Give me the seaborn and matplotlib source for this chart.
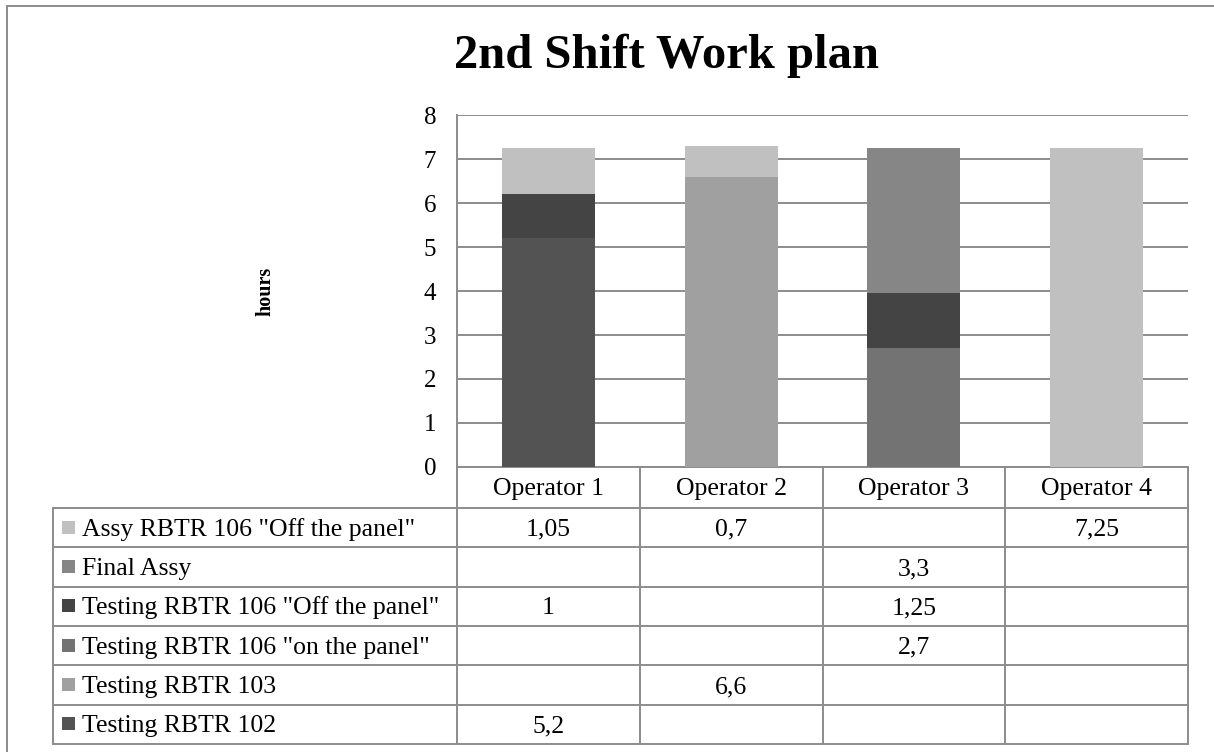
import matplotlib
matplotlib.use('Agg')
import matplotlib.pyplot as plt
import matplotlib.transforms as mtransforms
import numpy as np
import pandas as pd
import seaborn as sns
from matplotlib.lines import Line2D
from matplotlib.patches import Rectangle

operators = ['Operator 1', 'Operator 2', 'Operator 3', 'Operator 4']

# stacking order, bottom to top
tasks = [
    'Testing RBTR 102',
    'Testing RBTR 103',
    'Testing RBTR 106 "on the panel"',
    'Testing RBTR 106 "Off the panel"',
    'Final Assy',
    'Assy RBTR 106 "Off the panel"',
]
testing_102 = [5.2, None, None, None]
testing_103 = [None, 6.6, None, None]
testing_106_on = [None, None, 2.7, None]
testing_106_off = [1, None, 1.25, None]
final_assy = [None, None, 3.3, None]
assy_106_off = [1.05, 0.7, None, 7.25]

task_colors = ['#535353', '#a0a0a0', '#737373', '#444444', '#868686', '#c0c0c0']

W, H = 1214, 752
LINE = '#8c8c8c'

sns.set_theme(style='white')
plt.rcParams['font.family'] = ['Liberation Serif', 'DejaVu Serif']
plt.rcParams['text.color'] = 'black'
plt.rcParams['ytick.color'] = 'black'

df = pd.DataFrame(
    dict(zip(tasks, [testing_102, testing_103, testing_106_on,
                     testing_106_off, final_assy, assy_106_off])),
    index=operators,
)
stacked = df.fillna(0).cumsum(axis=1)

fig = plt.figure(figsize=(W / 100, H / 100), dpi=100)
ax = fig.add_axes([457 / W, 1 - 467 / H, (1188 - 457) / W, (467 - 115) / H])

# draw tallest cumulative first so each lower segment covers it
for task, color in reversed(list(zip(tasks, task_colors))):
    sns.barplot(x=operators, y=stacked[task].values, color=color, saturation=1,
                width=0.51, linewidth=0, ax=ax, zorder=3)

ax.set_ylim(0, 8)
ax.set_xlim(-0.5, 3.5)
ax.set_yticks(range(0, 9))
ax.yaxis.grid(True, color=LINE, linewidth=1.4)
ax.set_axisbelow(True)
ax.tick_params(axis='x', length=0, labelbottom=False)
ax.tick_params(axis='y', length=0, pad=15, labelsize=18, labelcolor='black')
ax.set_xlabel('')
ax.set_ylabel('')
for side in ['top', 'right', 'bottom']:
    ax.spines[side].set_visible(False)
ax.spines['left'].set_color(LINE)
ax.spines['left'].set_linewidth(1.4)


def fy(py):
    return 1 - py / H


def fx(px):
    return px / W


# data table under the axis, columns follow the category axis
blend = mtransforms.blended_transform_factory(ax.transData, fig.transFigure)
col_edges = np.arange(len(operators) + 1) - 0.5
row_edges = np.linspace(508, 744, len(tasks) + 1)
header_top, header_bottom = 467, 508
base = 8  # baseline offset below the row centre, px

ax.add_line(Line2D([-0.5, 3.5], [fy(header_top)] * 2, transform=blend,
                   color=LINE, lw=1.4, clip_on=False))
for xe in col_edges:
    ax.add_line(Line2D([xe, xe], [fy(header_top), fy(744)], transform=blend,
                       color=LINE, lw=1.4, clip_on=False))
for ye in row_edges:
    fig.add_artist(Line2D([fx(53), ax.get_position().x1], [fy(ye)] * 2,
                          color=LINE, lw=1.4))
fig.add_artist(Line2D([fx(53)] * 2, [fy(508), fy(744)], color=LINE, lw=1.4))

for i, op in enumerate(operators):
    ax.text(i, fy((header_top + header_bottom) / 2 + base), op, transform=blend,
            ha='center', va='baseline', fontsize=18.5)

for r, (task, color) in enumerate(reversed(list(zip(tasks, task_colors)))):
    yc = (row_edges[r] + row_edges[r + 1]) / 2
    fig.add_artist(Rectangle((fx(62), fy(yc + 6)), 13 / W, 13 / H,
                             facecolor=color, edgecolor='none'))
    fig.text(fx(82), fy(yc + base), task, ha='left', va='baseline', fontsize=18.5)
    for i, v in enumerate(df[task]):
        if pd.notna(v):
            label = f'{v:g}'.replace('.', ',')
            ax.text(i, fy(yc + base), label, transform=blend, ha='center',
                    va='baseline', fontsize=18.5)

fig.text(fx(667), fy(56), '2nd Shift Work plan', ha='center', va='center',
         fontsize=35, fontweight='bold')
fig.text(fx(265), fy(291), 'hours', ha='center', va='center', rotation=90,
         fontsize=14.5, fontweight='bold')

# outer chart frame (left and top edges visible)
fig.add_artist(Line2D([fx(7), fx(7)], [fy(6), 0], color=LINE, lw=1.4))
fig.add_artist(Line2D([fx(7), 1], [fy(6), fy(6)], color=LINE, lw=1.4))

fig.savefig('out.png', dpi=100)
